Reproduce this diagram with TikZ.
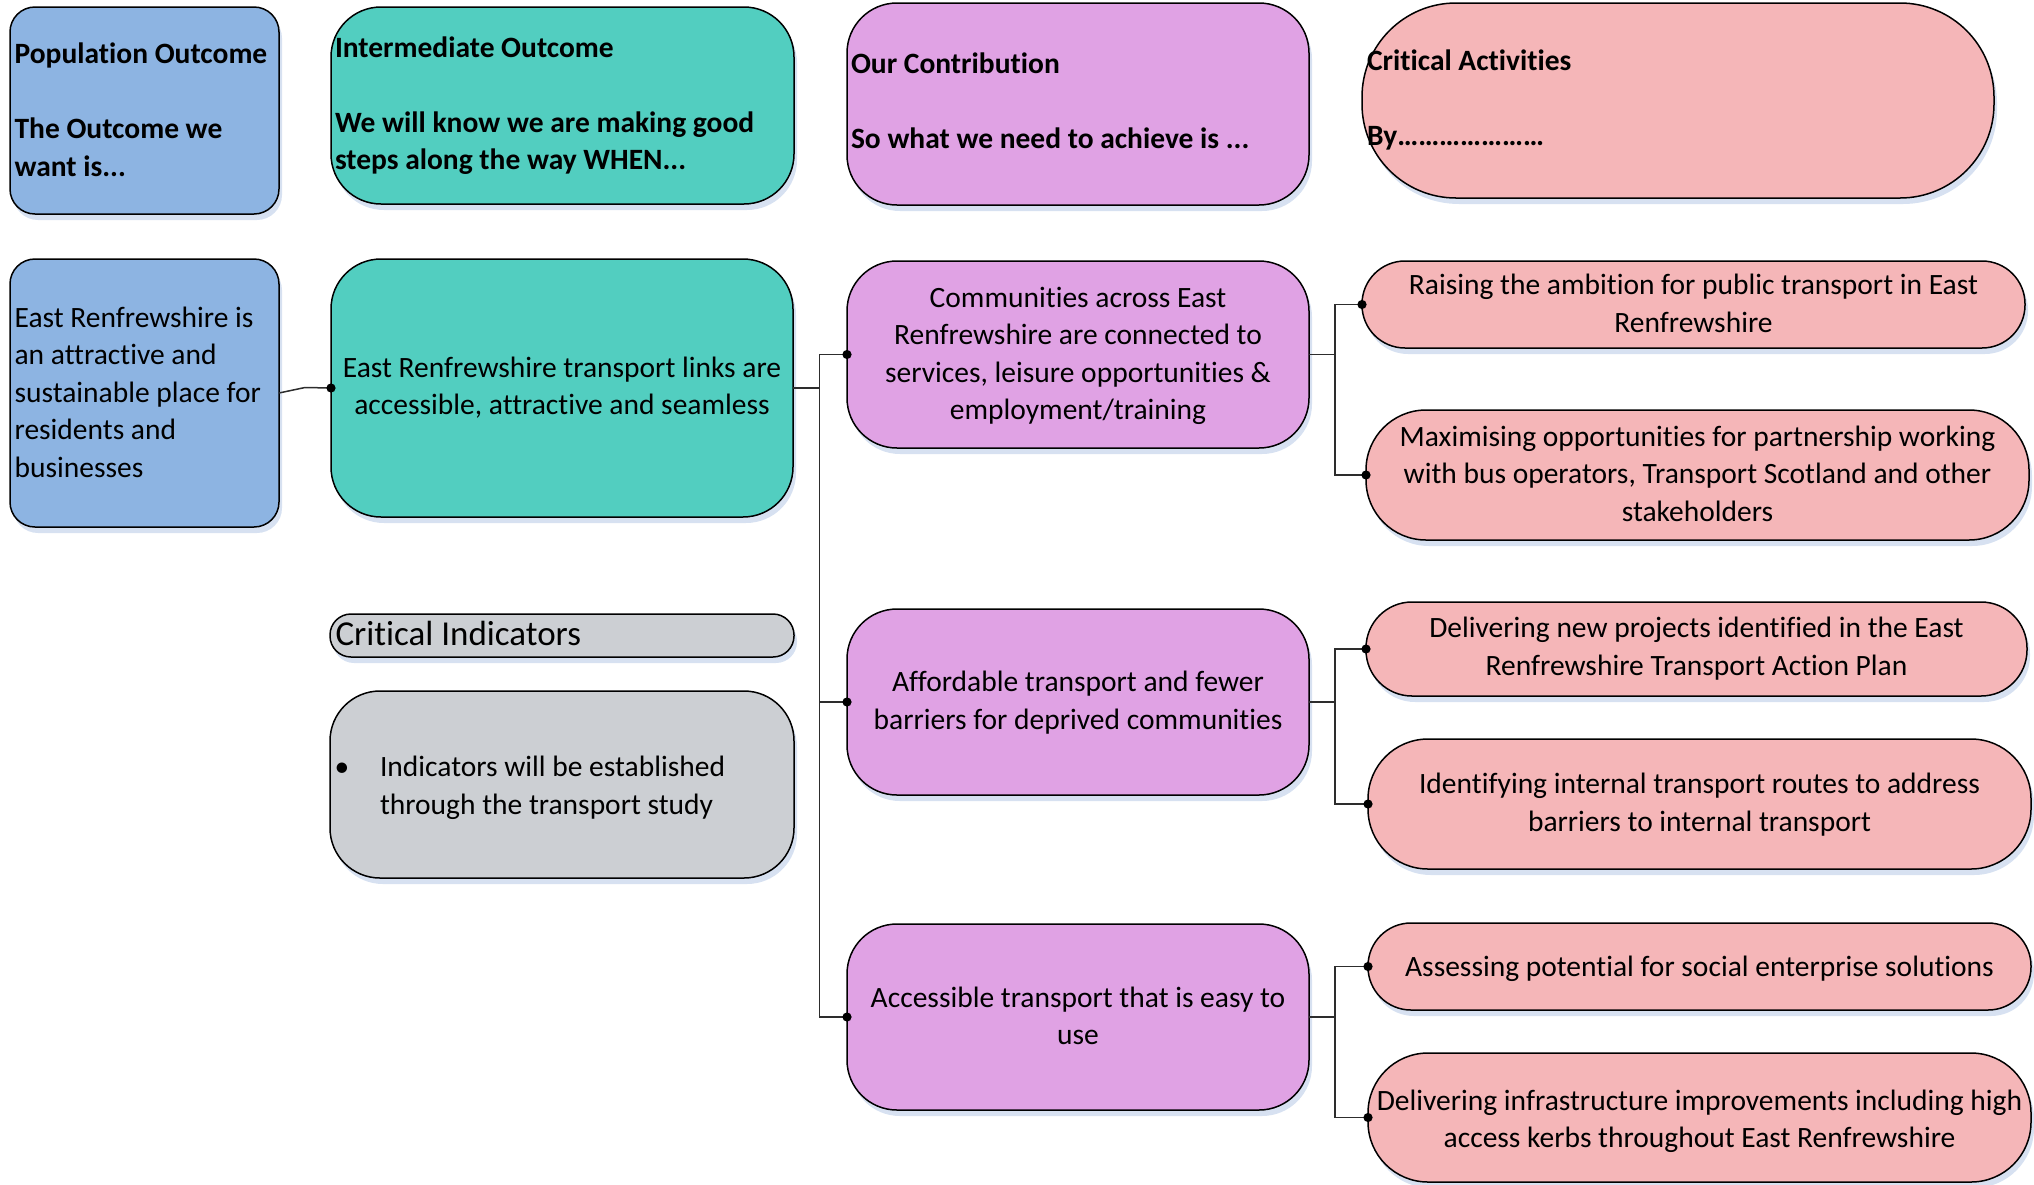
\documentclass[tikz,border=0pt]{standalone}
\usepackage{fontspec}
\setmainfont{Carlito}[Ligatures=NoCommon]
\usetikzlibrary{shadows}
\definecolor{blueC}{RGB}{141,180,226}
\definecolor{tealC}{RGB}{82,206,192}
\definecolor{purpC}{RGB}{224,162,228}
\definecolor{pinkC}{RGB}{245,182,184}
\definecolor{grayC}{RGB}{204,207,211}
\definecolor{shadowC}{RGB}{205,218,238}
\definecolor{lineC}{RGB}{45,45,45}
\newcommand{\drawbox}[7]{\node[box, fill=#6, rounded corners=#7, minimum width={(#4-#2)*0.5pt}, minimum height={(#5-#3)*0.5pt}] (#1) at ({(#2+#4)/2},{(#3+#5)/2}) {};}
\begin{document}
\begin{tikzpicture}[x=0.5pt,y=-0.5pt,
  box/.style={draw=black, line width=0.75pt, inner sep=0pt, outer sep=0pt,
    drop shadow={shadow xshift=1.5pt, shadow yshift=-3pt, fill=shadowC, opacity=0.8}},
  txt/.style={inner sep=0pt, outer sep=0pt, font=\fontsize{14.75pt}{18.75pt}\selectfont},
  ltxt/.style={txt, align=left, anchor=north west},
  ctxt/.style={txt, align=center, anchor=north},
  conn/.style={draw=lineC, line width=0.75pt},
  dot/.style={fill=black}]
\useasboundingbox (0,0) rectangle (2034,1184);

% header row
\drawbox{hpop}{10}{7}{279}{214}{blueC}{12.5pt}
\drawbox{hint}{331}{7}{794}{204}{tealC}{25pt}
\drawbox{hcon}{847}{3}{1309}{205}{purpC}{25pt}
\drawbox{hact}{1362}{3}{1994}{198}{pinkC}{47pt}

\node[ltxt] (thpop) at (14.6,37.25) {\strut\bfseries Population Outcome\\[18.75pt]\bfseries The Outcome we\\\bfseries want is...\strut};
\node[ltxt] (thint) at (335,30.75) {\strut\bfseries Intermediate Outcome\\[18.75pt]\bfseries We will know we are making good\\\bfseries steps along the way WHEN...\strut};
\node[ltxt] (thcon) at (851,46.75) {\strut\bfseries Our Contribution\\[18.75pt]\bfseries So what we need to achieve is ...\strut};
\node[ltxt] (thact) at (1367,43.75) {\strut\bfseries Critical Activities\\[18.75pt]\bfseries By…………………\strut};

% main boxes
\drawbox{pop}{10}{259}{279}{527}{blueC}{12.5pt}
\drawbox{io}{331}{259}{793}{517}{tealC}{25pt}
\drawbox{c1}{847}{261}{1309}{448}{purpC}{25pt}
\drawbox{c2}{847}{609}{1309}{795}{purpC}{25pt}
\drawbox{c3}{847}{924}{1309}{1110}{purpC}{25pt}
\drawbox{a1}{1362}{261}{2025}{348}{pinkC}{21.5pt}
\drawbox{a2}{1366}{410}{2029}{540}{pinkC}{30pt}
\drawbox{a3}{1366}{602}{2027}{696}{pinkC}{23pt}
\drawbox{a4}{1368}{739}{2031}{869}{pinkC}{30pt}
\drawbox{a5}{1368}{923}{2031}{1010}{pinkC}{21.5pt}
\drawbox{a6}{1368}{1053}{2031}{1182}{pinkC}{30pt}
\drawbox{ci}{330}{614}{794}{657}{grayC}{10.5pt}
\drawbox{ind}{330}{691}{794}{878}{grayC}{25pt}

% texts
\node[ltxt] (tpop) at (14.6,300.75) {\strut East Renfrewshire is\\an attractive and\\sustainable place for\\residents and\\businesses\strut};
\node[ctxt] (tio) at (562,350.75) {\strut East Renfrewshire transport links are\\accessible, attractive and seamless\strut};
\node[ctxt] (tc1) at (1078,280.75) {\strut Communities across East\\Renfrewshire are connected to\\services, leisure opportunities \&\\employment/training\strut};
\node[ctxt] (tc2) at (1078,665.5) {\strut Affordable transport and fewer\\barriers for deprived communities\strut};
\node[ctxt] (tc3) at (1078,980.75) {\strut Accessible transport that is easy to\\use\strut};
\node[ctxt] (ta1) at (1693.5,268.25) {\strut Raising the ambition for public transport in East\\Renfrewshire\strut};
\node[ctxt] (ta2) at (1697.5,419.75) {\strut Maximising opportunities for partnership working\\with bus operators, Transport Scotland and other\\stakeholders\strut};
\node[ctxt] (ta3) at (1696.5,611.5) {\strut Delivering new projects identified in the East\\Renfrewshire Transport Action Plan\strut};
\node[ctxt] (ta4) at (1699.5,767.5) {\strut Identifying internal transport routes to address\\barriers to internal transport\strut};
\node[ctxt] (ta5) at (1699.5,950.45) {\strut Assessing potential for social enterprise solutions\strut};
\node[ctxt] (ta6) at (1699.5,1083.75) {\strut Delivering infrastructure improvements including high\\access kerbs throughout East Renfrewshire\strut};
\node[inner sep=0pt, outer sep=0pt, anchor=north west, font=\fontsize{17.5pt}{21pt}\selectfont] (tci) at (335.5,616.3) {\strut Critical Indicators};
\node[txt, anchor=base] (tbul) at (342,776.5) {•};
\node[ltxt] (tind) at (380,750.25) {\strut Indicators will be established\\through the transport study\strut};

% connectors
\coordinate (bend) at (305,387.5);
\coordinate (trunk) at (819.5,388);
\coordinate (j1) at (1335,354.5);
\coordinate (j2) at (1335,702);
\coordinate (j3) at (1335,1017);
\draw[conn] (pop.east) -- (bend) -- (io.west);
\draw[conn] (io.east) -- (trunk);
\draw[conn] (trunk) |- (c1.west);
\draw[conn] (trunk) |- (c2.west);
\draw[conn] (trunk) |- (c3.west);
\draw[conn] (c1.east) -- (j1) |- (a1.west);
\draw[conn] (j1) |- (a2.west);
\draw[conn] (c2.east) -- (j2) |- (a3.west);
\draw[conn] (j2) |- (a4.west);
\draw[conn] (c3.east) -- (j3) |- (a5.west);
\draw[conn] (j3) |- (a6.west);
\foreach \n in {io,c1,c2,c3,a1,a2,a3,a4,a5,a6}
  \fill[dot] (\n.west) circle (2.3pt);
\end{tikzpicture}
\end{document}
